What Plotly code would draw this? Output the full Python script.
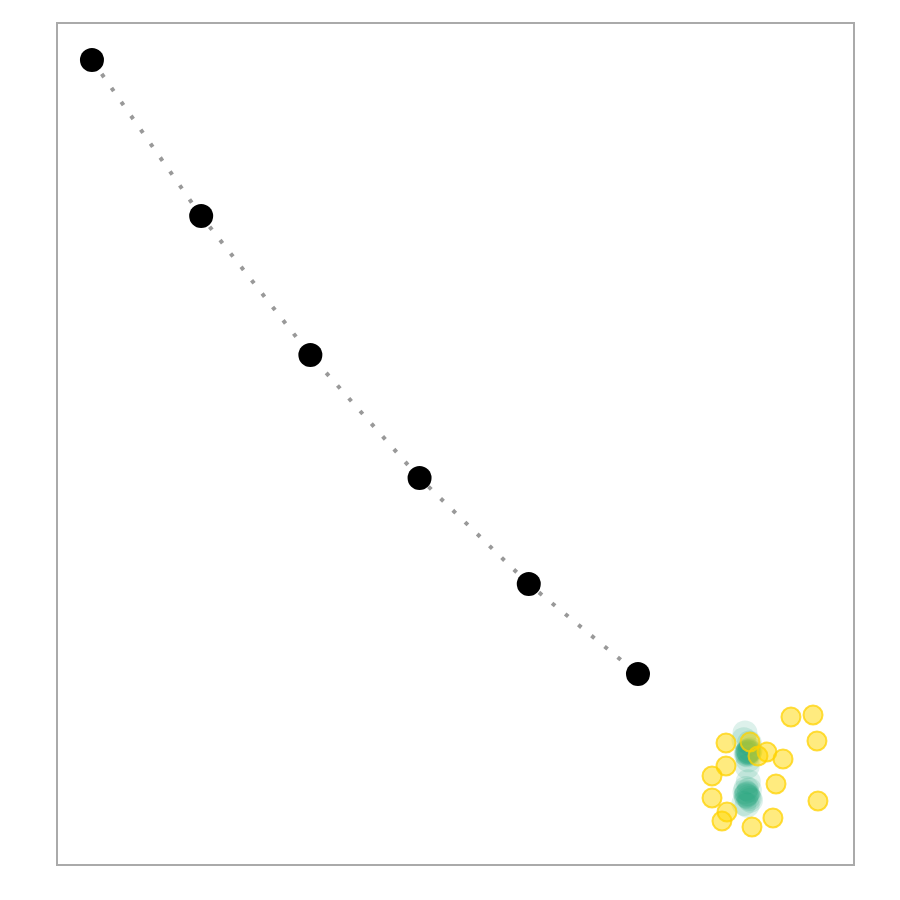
import plotly.graph_objects as go

# Black path points
path_x = [1, 2, 3, 4, 5, 6]
path_y = [9.571, 7.714, 6.060, 4.595, 3.333, 2.262]

# Yellow scattered points
yellow_x = [7.401, 7.603, 7.639, 6.806, 7.026, 7.181, 7.099, 7.328, 6.806,
            6.678, 7.264, 6.678, 7.648, 6.815, 6.769, 7.236, 7.044]
yellow_y = [1.750, 1.774, 1.464, 1.440, 1.452, 1.333, 1.286, 1.250, 1.167,
            1.048, 0.952, 0.786, 0.750, 0.619, 0.512, 0.548, 0.440]

# Green translucent cluster points
green_x = [7.00, 7.01, 7.02, 6.99, 7.01, 7.00, 7.03, 7.01, 7.00, 7.02,
           6.98, 6.97, 7.02, 7.00, 7.01,
           6.99, 7.00, 7.01, 6.98, 7.02, 7.00, 6.99, 7.01, 6.97, 7.03, 7.00, 7.02, 6.99]
green_y = [1.33, 1.34, 1.32, 1.31, 1.35, 1.30, 1.36, 1.33, 1.32, 1.34,
           1.56, 1.48, 1.44, 1.16, 1.24,
           0.82, 0.84, 0.80, 0.86, 0.78, 0.83, 0.90, 0.98, 0.72, 0.76, 0.70, 0.88, 0.81]

fig = go.Figure()

fig.add_trace(go.Scatter(
    x=green_x, y=green_y, mode="markers",
    marker=dict(size=25, color="rgba(27,158,119,0.15)", line=dict(width=0)),
    hoverinfo="skip", showlegend=False))

fig.add_trace(go.Scatter(
    x=yellow_x, y=yellow_y, mode="markers",
    marker=dict(size=19, color="rgba(255,215,0,0.5)",
                line=dict(width=2, color="rgba(255,210,0,0.75)")),
    showlegend=False))

fig.add_trace(go.Scatter(
    x=path_x, y=path_y, mode="lines",
    line=dict(color="#999999", width=4, dash="4px,13px"),
    showlegend=False))

fig.add_trace(go.Scatter(
    x=path_x, y=path_y, mode="markers",
    marker=dict(size=24, color="black", line=dict(width=0)),
    showlegend=False))

axis_common = dict(showgrid=False, zeroline=False, showticklabels=False, ticks="",
                   showline=True, mirror=True, linecolor="#aaaaaa", linewidth=2)

fig.update_layout(
    width=900, height=900,
    margin=dict(l=58, r=47, t=24, b=36),
    paper_bgcolor="white", plot_bgcolor="white",
    xaxis=dict(range=[0.689, 7.969], **axis_common),
    yaxis=dict(range=[0, 10], **axis_common),
)

fig.write_html("out.html")
